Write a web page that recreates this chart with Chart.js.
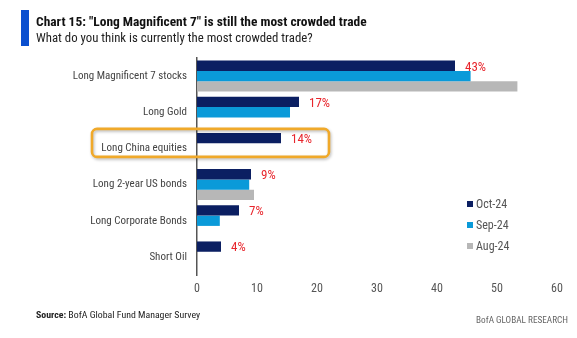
<!DOCTYPE html>
<html>
<head>
<meta charset="utf-8">
<script src="https://cdn.jsdelivr.net/npm/chart.js@4.4.1/dist/chart.umd.min.js"></script>
<style>
  html, body { margin: 0; padding: 0; background: #fff; }
  body { width: 577px; height: 338px; position: relative; overflow: hidden;
         font-family: "Roboto Condensed", "Liberation Sans Narrow", "DejaVu Sans Condensed", sans-serif; }
  #wrap { position: absolute; left: 0; top: 0; width: 577px; height: 338px; }
  .abs { position: absolute; white-space: nowrap; }
  #bar { left: 21px; top: 10px; width: 8px; height: 36px; background: #0a4fcf; }
  #title { left: 36px; top: 13px; font-size: 14.5px; font-weight: bold; color: #111; line-height: 17px; }
  #subtitle { left: 36px; top: 30px; font-size: 13px; color: #222; line-height: 15px; }
  #source { left: 36px; top: 308px; font-size: 11px; color: #222; line-height: 13px; }
  #footer { right: 9px; top: 313px; font-size: 11px; color: #666; line-height: 13px; }
  #legend .item { position: absolute; left: 467px; font-size: 12px; color: #555; line-height: 14px; white-space: nowrap; }
  #legend .sw { position: absolute; left: 0; top: 4px; width: 6px; height: 6px; }
  #legend .tx { position: absolute; left: 9px; top: 0; }
</style>
</head>
<body>
<div id="wrap"><canvas id="c" width="577" height="338"></canvas></div>
<div id="bar" class="abs"></div>
<div id="title" class="abs" data-w="331">Chart 15: "Long Magnificent 7" is still the most crowded trade</div>
<div id="subtitle" class="abs" data-w="277">What do you think is currently the most crowded trade?</div>
<div id="source" class="abs" data-w="164"><b>Source:</b> BofA Global Fund Manager Survey</div>
<div id="footer" class="abs" data-w="92">BofA GLOBAL RESEARCH</div>
<div id="legend"></div>
<script>
// ---- Data ----
const categories = ["Long Magnificent 7 stocks", "Long Gold", "Long China equities",
                    "Long 2-year US bonds", "Long Corporate Bonds", "Short Oil"];
const seriesNames = ["Oct-24", "Sep-24", "Aug-24"];
const oct24 = [43, 17, 14, 9, 7, 4];
const sep24 = [45.6, 15.5, null, 8.7, 3.8, null];
const aug24 = [53.4, null, null, 9.5, null, null];
const xTicks = [0, 10, 20, 30, 40, 50, 60];
const highlightIndex = 2;
const highlightToValue = 22;

const colors = ["#0b1f62", "#0a9ad9", "#b7b7b7"];
const FONT = '"Roboto Condensed", "Liberation Sans Narrow", "DejaVu Sans Condensed", sans-serif';

// fit HTML text to measured widths of the reference
document.querySelectorAll('[data-w]').forEach(el => {
  const target = parseFloat(el.dataset.w);
  const fs = parseFloat(getComputedStyle(el).fontSize);
  const w = el.getBoundingClientRect().width;
  if (w > 0) el.style.fontSize = (fs * target / w).toFixed(2) + 'px';
});

// ---- Plugins ----
const valueLabels = {
  id: 'valueLabels',
  afterDatasetsDraw(chart) {
    const ctx = chart.ctx;
    const meta = chart.getDatasetMeta(0);
    ctx.save();
    ctx.font = '13px ' + FONT;
    ctx.fillStyle = '#e8262d';
    ctx.textAlign = 'left';
    ctx.textBaseline = 'middle';
    meta.data.forEach((el, i) => {
      const v = oct24[i];
      if (v == null) return;
      ctx.fillText(v + '%', el.x + 10, el.y + 1.5);
    });
    ctx.restore();
  }
};

const highlightBox = {
  id: 'highlightBox',
  afterDraw(chart) {
    const ctx = chart.ctx;
    const y = chart.scales.y;
    const x = chart.scales.x;
    const cy = y.getPixelForValue(highlightIndex);
    const top = cy - 19.5, bottom = cy + 8.5;
    const left = 92, right = x.getPixelForValue(highlightToValue);
    const r = 5;
    ctx.save();
    ctx.shadowColor = 'rgba(0,0,0,0.28)';
    ctx.shadowBlur = 3;
    ctx.shadowOffsetX = 1;
    ctx.shadowOffsetY = 1.5;
    ctx.strokeStyle = '#f0a92a';
    ctx.lineWidth = 2.6;
    ctx.beginPath();
    ctx.moveTo(left + r, top);
    ctx.lineTo(right - r, top);
    ctx.arcTo(right, top, right, top + r, r);
    ctx.lineTo(right, bottom - r);
    ctx.arcTo(right, bottom, right - r, bottom, r);
    ctx.lineTo(left + r, bottom);
    ctx.arcTo(left, bottom, left, bottom - r, r);
    ctx.lineTo(left, top + r);
    ctx.arcTo(left, top, left + r, top, r);
    ctx.closePath();
    ctx.stroke();
    ctx.restore();
  }
};

const ctx = document.getElementById('c').getContext('2d');
const chart = new Chart(ctx, {
  type: 'bar',
  data: {
    labels: categories,
    datasets: [
      { label: seriesNames[0], data: oct24, backgroundColor: colors[0] },
      { label: seriesNames[1], data: sep24, backgroundColor: colors[1] },
      { label: seriesNames[2], data: aug24, backgroundColor: colors[2] }
    ]
  },
  options: {
    indexAxis: 'y',
    responsive: false,
    animation: false,
    devicePixelRatio: 1,
    layout: { padding: { top: 58, right: 20, bottom: 0, left: 0 } },
    datasets: { bar: { barPercentage: 1.0, categoryPercentage: 0.855, borderWidth: 0 } },
    plugins: { legend: { display: false }, tooltip: { enabled: false }, title: { display: false } },
    scales: {
      x: {
        type: 'linear', min: 0, max: 60,
        afterBuildTicks: (s) => { s.ticks = xTicks.map(v => ({ value: v })); },
        afterFit: (s) => { s.height = 63; },
        grid: { display: false, drawTicks: false },
        border: { display: false },
        ticks: { padding: 7, color: '#555', font: { family: FONT, size: 12 } }
      },
      y: {
        afterFit: (s) => { s.width = 197; },
        grid: { display: false, drawTicks: false },
        border: { display: true, color: '#555', width: 1.5 },
        ticks: { padding: 10, color: '#444', font: { family: FONT, size: 11 } }
      }
    }
  },
  plugins: [valueLabels, highlightBox]
});

// ---- HTML legend built from datasets ----
const legend = document.getElementById('legend');
const legendTops = [197, 217.5, 238.5];
chart.data.datasets.forEach((ds, i) => {
  const item = document.createElement('div');
  item.className = 'item';
  item.style.top = legendTops[i] + 'px';
  const sw = document.createElement('span');
  sw.className = 'sw';
  sw.style.background = ds.backgroundColor;
  const tx = document.createElement('span');
  tx.className = 'tx';
  tx.textContent = ds.label;
  item.appendChild(sw); item.appendChild(tx);
  legend.appendChild(item);
});
</script>
</body>
</html>
